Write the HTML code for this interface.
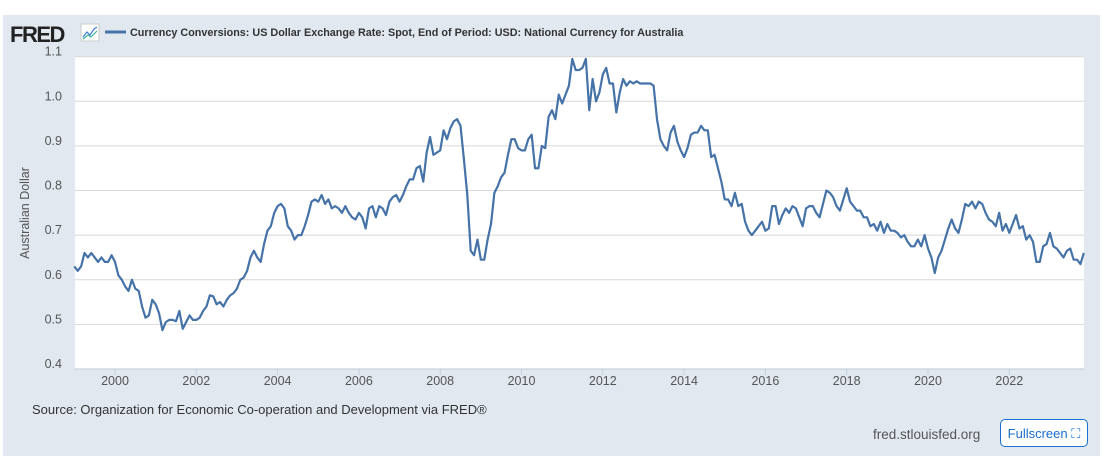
<!DOCTYPE html>
<html><head><meta charset="utf-8"><style>
html,body{margin:0;padding:0;background:#fff;width:1106px;height:456px;overflow:hidden;font-family:"Liberation Sans",sans-serif}
#wrap{position:absolute;left:3px;top:15px;width:1097px;height:441px;background:#e1e8f0}
#fs{position:absolute;left:1000px;top:419px;width:88px;height:28px;border:1px solid #1a6fd1;border-radius:5px;background:#fff;color:#1a6fd1;font-size:13px;line-height:27px;text-align:center;box-sizing:border-box}
</style></head><body>
<div id="wrap"></div>
<svg width="1106" height="456" style="position:absolute;left:0;top:0">
<text x="10" y="42" font-size="22" font-weight="bold" fill="#222" letter-spacing="-1.5">FRED</text>
<g><rect x="81" y="24" width="18" height="17" fill="#fff" stroke="#ccc"/><polyline points="83,37 87,32 90,35 94,29 97,27" fill="none" stroke="#3a7bd5" stroke-width="1.2"/><polyline points="83,39 88,35 91,37 97,31" fill="none" stroke="#3cb39a" stroke-width="1.2"/></g>
<line x1="105" y1="32" x2="126" y2="32" stroke="#4572a7" stroke-width="3"/>
<text x="130" y="36" font-size="10.8" font-weight="bold" fill="#333">Currency Conversions: US Dollar Exchange Rate: Spot, End of Period: USD: National Currency for Australia</text>
<rect x="75" y="56.7" width="1009" height="312.3" fill="#fff"/>
<g id="grid"></g><g id="ylab"></g><g id="xlab"></g>
<path id="line" fill="none" stroke="#4572a7" stroke-width="2.2" stroke-linejoin="round"/>
<text transform="translate(29,213) rotate(-90)" font-size="12.5" fill="#555" text-anchor="middle">Australian Dollar</text>
<text x="32" y="414" font-size="13" fill="#333">Source: Organization for Economic Co-operation and Development via FRED®</text>
<text x="873" y="439" font-size="13.5" fill="#555">fred.stlouisfed.org</text>
</svg>
<div id="fs">Fullscreen ⛶</div>
<script>
const yTicks=[0.4,0.5,0.6,0.7,0.8,0.9,1.0,1.1];
const xTicks=[2000,2002,2004,2006,2008,2010,2012,2014,2016,2018,2020,2022];
const startYear=1999;
const values=[
0.63,0.62,0.63,0.66,0.65,0.66,0.65,0.64,0.65,0.64,0.64,0.655,
0.64,0.61,0.60,0.585,0.575,0.60,0.58,0.575,0.54,0.515,0.52,0.555,
0.545,0.525,0.487,0.505,0.51,0.51,0.507,0.53,0.49,0.505,0.52,0.51,
0.51,0.515,0.53,0.54,0.565,0.563,0.545,0.55,0.54,0.555,0.565,0.57,
0.58,0.60,0.605,0.62,0.65,0.665,0.65,0.64,0.68,0.71,0.72,0.75,
0.765,0.77,0.76,0.72,0.71,0.69,0.70,0.70,0.72,0.745,0.775,0.78,
0.775,0.79,0.77,0.78,0.76,0.765,0.76,0.75,0.765,0.75,0.74,0.735,
0.75,0.74,0.715,0.76,0.765,0.74,0.765,0.76,0.745,0.775,0.785,0.79,
0.775,0.79,0.81,0.825,0.825,0.85,0.855,0.82,0.885,0.92,0.88,0.885,
0.89,0.935,0.915,0.94,0.955,0.96,0.945,0.87,0.79,0.665,0.655,0.69,
0.645,0.645,0.69,0.725,0.795,0.81,0.83,0.84,0.88,0.915,0.915,0.895,
0.89,0.89,0.915,0.925,0.85,0.85,0.90,0.895,0.965,0.98,0.96,1.015,
0.995,1.015,1.035,1.095,1.07,1.07,1.075,1.095,0.98,1.05,1.0,1.02,
1.06,1.075,1.04,1.04,0.975,1.02,1.05,1.035,1.045,1.04,1.045,1.04,
1.04,1.04,1.04,1.035,0.96,0.915,0.90,0.89,0.93,0.945,0.91,0.89,
0.875,0.895,0.925,0.93,0.93,0.945,0.935,0.935,0.875,0.88,0.85,0.82,
0.78,0.78,0.765,0.795,0.765,0.77,0.73,0.71,0.70,0.71,0.72,0.73,
0.71,0.715,0.765,0.765,0.725,0.745,0.76,0.75,0.765,0.76,0.74,0.72,
0.76,0.765,0.765,0.75,0.74,0.77,0.80,0.795,0.785,0.765,0.755,0.78,
0.805,0.775,0.765,0.755,0.755,0.74,0.74,0.72,0.725,0.71,0.73,0.705,
0.725,0.71,0.71,0.705,0.695,0.70,0.685,0.675,0.675,0.69,0.675,0.70,
0.67,0.65,0.615,0.65,0.665,0.69,0.715,0.735,0.715,0.705,0.735,0.77,
0.765,0.775,0.76,0.775,0.77,0.75,0.735,0.73,0.72,0.75,0.71,0.725,
0.705,0.725,0.745,0.715,0.72,0.69,0.70,0.685,0.64,0.64,0.675,0.68,
0.705,0.675,0.67,0.66,0.65,0.665,0.67,0.645,0.645,0.635,0.66];
const NS="http://www.w3.org/2000/svg";
function X(t){return 74.35+(t-1999)*40.65;}
function Y(v){return 56.7+(1.1-v)*446.1;}
const grid=document.getElementById('grid'),yl=document.getElementById('ylab'),xl=document.getElementById('xlab');
yTicks.forEach(v=>{
 const l=document.createElementNS(NS,'line');
 l.setAttribute('x1',75);l.setAttribute('x2',1084);l.setAttribute('y1',Y(v));l.setAttribute('y2',Y(v));
 l.setAttribute('stroke',v===0.4?'#c0c8d0':'#d8d8d8');l.setAttribute('stroke-width',1);
 
 
 grid.appendChild(l);
 const t=document.createElementNS(NS,'text');
 t.setAttribute('x',62);t.setAttribute('y',Y(v)-1);t.setAttribute('text-anchor','end');t.setAttribute('font-size','12.5');t.setAttribute('fill','#555');
 t.textContent=v.toFixed(1);
 
 
 yl.appendChild(t);
});
xTicks.forEach(yr=>{
 const l=document.createElementNS(NS,'line');
 l.setAttribute('x1',X(yr));l.setAttribute('x2',X(yr));l.setAttribute('y1',369);l.setAttribute('y2',375);l.setAttribute('stroke','#c0d0e0');
 
 
 grid.appendChild(l);
 const t=document.createElementNS(NS,'text');
 t.setAttribute('x',X(yr));t.setAttribute('y',385);t.setAttribute('text-anchor','middle');t.setAttribute('font-size','12.5');t.setAttribute('fill','#555');
 t.textContent=yr;
 
 
 xl.appendChild(t);
});
document.getElementById('line').setAttribute('d',values.map((v,i)=>(i?'L':'M')+X(startYear+i/12).toFixed(2)+','+Y(v).toFixed(2)).join(''));
</script>
</body></html>
